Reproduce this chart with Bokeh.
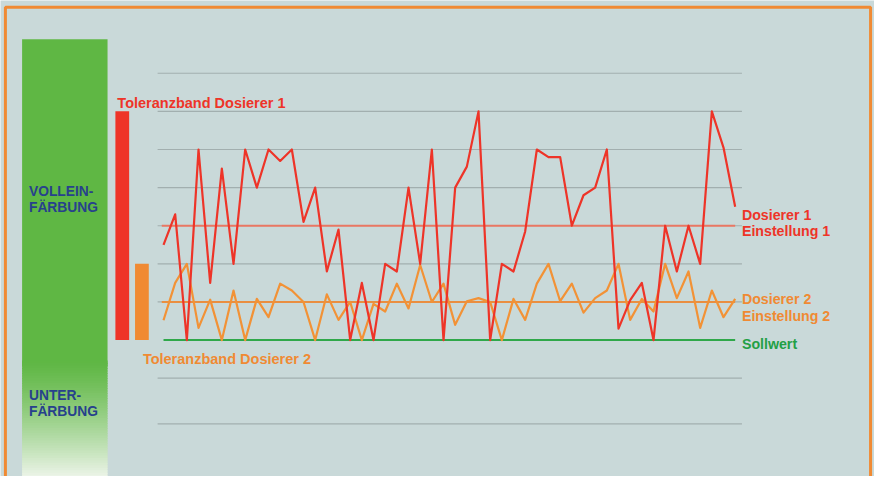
from bokeh.plotting import figure
from bokeh.models import Range1d
from bokeh.embed import file_html
from bokeh.resources import INLINE
from bokeh.core.properties import value

# ---------------- data ----------------
dosierer1 = [2.5, 3.3, 0, 5, 1.5, 4.5, 2, 5, 4, 5, 4.7, 5, 3.1, 4, 1.8, 2.9, 0, 1.5, 0, 2,
             1.8, 4, 2, 5, 0, 4, 4.55, 6, 0, 2, 1.8, 2.85, 5, 4.8, 4.8, 3, 3.8, 4, 5, 0.3,
             1.05, 1.5, 0, 3, 1.8, 3, 2, 6, 5.05, 3.5]
dosierer2 = [0.52, 1.5, 2.0, 0.32, 1.06, 0, 1.3, 0, 1.08, 0.6, 1.48, 1.3, 1.0, 0, 1.2, 0.53,
             1.0, 0, 0.95, 0.75, 1.48, 0.83, 1.97, 1.0, 1.48, 0.4, 1.02, 1.1, 1.0, 0, 1.08,
             0.53, 1.48, 2.0, 1.02, 1.48, 0.72, 1.1, 1.3, 2.0, 0.53, 1.08, 0.75, 2.0, 1.1,
             1.8, 0.32, 1.3, 0.6, 1.08]
einstellung1 = 3
einstellung2 = 1
sollwert = 0
toleranz1 = 6
toleranz2 = 2
grid_levels = [7, 6, 5, 4, 3, 2, 1, -1, -2.2]
n = len(dosierer1)
xs = list(range(n))

# ---------------- layout helpers (reference px -> data) ----------------
X0, DX = 166.0, 11.88
Y0, DY = 351.0, 39.4
def fx(px):
    return (px - X0) / DX
def fy(py):
    return (Y0 - py) / DY

W, H = 874, 476
BG = "#c9d9d9"
GREEN = "#5fb744"
RED = "#ee3428"
ORANGE = "#f08a33"
BLUE = "#27418c"
FONT = "Liberation Sans"

p = figure(width=W, height=H, output_backend="svg", toolbar_location=None,
           x_range=Range1d(fx(0), fx(890)), y_range=Range1d(fy(492), fy(0)),
           min_border=0, background_fill_color=BG, border_fill_color=BG)
p.axis.visible = False
p.grid.visible = False
p.outline_line_color = None

# orange frame (bottom edge outside view)
p.quad(left=[fx(5)], right=[fx(886)], top=[fy(7)], bottom=[fy(560)],
       fill_color=None, line_color=ORANGE, line_width=3)

# green column with fading bottom
p.quad(left=[fx(22)], right=[fx(109)], top=[fy(40)], bottom=[fy(378)],
       fill_color=GREEN, line_color=None)
def hx(c):
    return tuple(int(c[i:i + 2], 16) for i in (1, 3, 5))
g0, g1 = hx(GREEN), hx("#f2f7ef")
steps = 48
for k in range(steps):
    t = (k + 0.5) / steps
    t2 = t ** 1.25
    col = "#%02x%02x%02x" % tuple(int(g0[i] + (g1[i] - g0[i]) * t2) for i in range(3))
    ya = 372 + (496 - 372) * k / steps
    yb = 372 + (496 - 372) * (k + 1) / steps
    p.quad(left=[fx(22)], right=[fx(109)], top=[fy(ya)], bottom=[fy(yb + 1.2)],
           fill_color=col, line_color=None)

# gridlines
for g in grid_levels:
    p.line([fx(160), fx(755)], [g, g], line_color="#a2afaf", line_width=1.2)

# tolerance bars
p.quad(left=[fx(117)], right=[fx(131)], bottom=[sollwert], top=[toleranz1],
       fill_color=RED, line_color=None)
p.quad(left=[fx(137)], right=[fx(151)], bottom=[sollwert], top=[toleranz2],
       fill_color=ORANGE, line_color=None)

# reference lines
p.line([-0.15, n - 1], [einstellung1, einstellung1], line_color="#f0705a", line_width=2, line_alpha=0.9)
p.line([-0.15, n - 1], [einstellung2, einstellung2], line_color=ORANGE, line_width=2, line_alpha=0.9)
p.line([0, n - 1], [sollwert, sollwert], line_color="#2fa84a", line_width=2)

# series
p.line(xs, dosierer2, line_color="#f29236", line_width=2.2, line_join="round")
p.line(xs, dosierer1, line_color=RED, line_width=2.2, line_join="round")

def label(txt, px, py, color, size="14.5px"):
    p.text(x=[fx(px)], y=[fy(py)], text=[txt], text_color=color,
           text_font=value(FONT), text_font_style="bold", text_font_size=size,
           text_baseline="alphabetic", text_align="left")

label("Toleranzband Dosierer 1", 119, 106, RED)
label("Toleranzband Dosierer 2", 145, 371, ORANGE)
label("VOLLEIN-", 29, 197, BLUE, "13.8px")
label("FÄRBUNG", 29, 214, BLUE, "13.8px")
label("UNTER-", 29, 408, BLUE, "13.8px")
label("FÄRBUNG", 29, 425, BLUE, "13.8px")
label("Dosierer 1", 755, 221.5, RED, "14.2px")
label("Einstellung 1", 755, 238.5, RED, "14.2px")
label("Dosierer 2", 755, 309, ORANGE, "14.2px")
label("Einstellung 2", 755, 326.5, ORANGE, "14.2px")
label("Sollwert", 755, 355, "#23a045", "14.2px")

open("out.html", "w").write(file_html(p, INLINE))
